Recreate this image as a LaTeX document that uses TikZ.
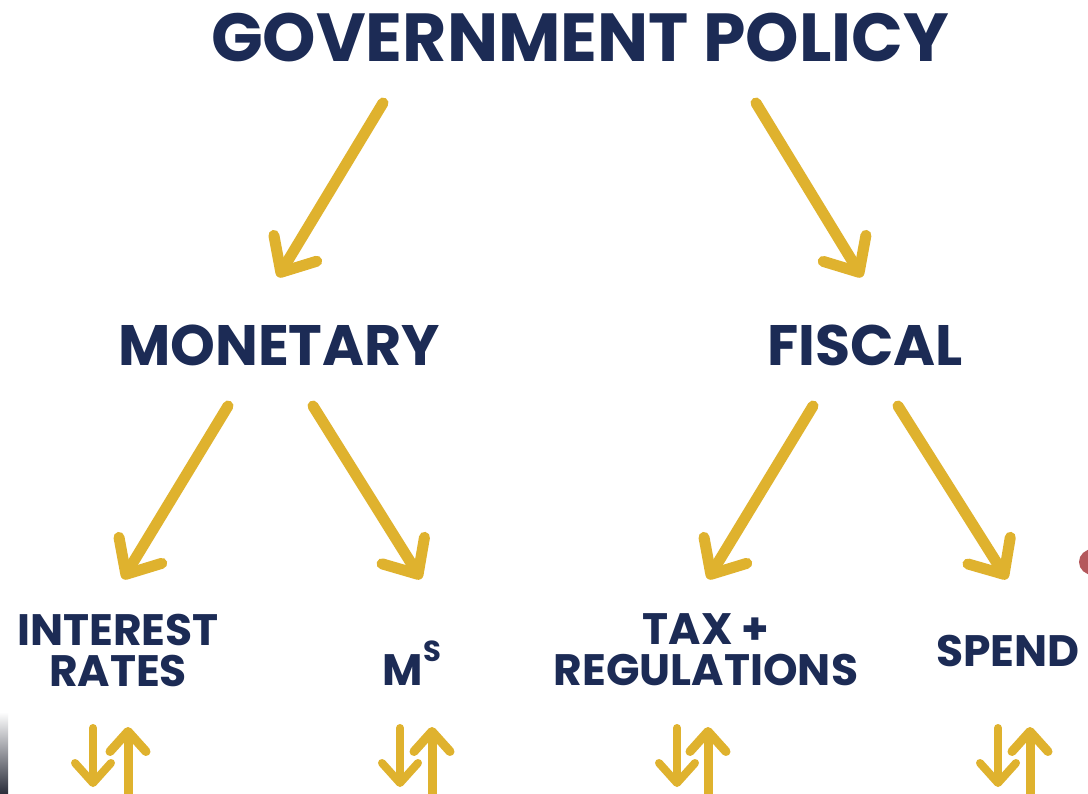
\documentclass[tikz,border=0pt]{standalone}
\usepackage{fontspec}
\setmainfont{Poppins}
\usetikzlibrary{arrows.meta}
\definecolor{navy}{HTML}{1C2B55}
\definecolor{gold}{HTML}{DFB22E}
\definecolor{edgedark}{HTML}{2A2D3A}
\definecolor{edgered}{HTML}{B4585C}
\begin{document}
\begin{tikzpicture}[x=1pt,y=-1pt,
  title/.style={font=\fontsize{68}{68}\selectfont\bfseries, text=navy, inner sep=0pt},
  branch/.style={font=\fontsize{57}{57}\selectfont\bfseries, text=navy, inner sep=0pt},
  leaf/.style={font=\fontsize{44}{41}\selectfont\bfseries, text=navy, inner sep=0pt, align=center},
  link/.style={draw=gold, line width=11pt, line cap=round, line join=round,
    -{Straight Barb[length=28pt,width=50pt,round]}},
  updown/.style={draw=gold, line width=9pt, line cap=round, line join=round,
    -{Straight Barb[length=20pt,width=36pt,round]}},
]
\useasboundingbox (0,0) rectangle (1088,794);
\fill[white] (0,0) rectangle (1088,794);

% edges of the surrounding scene
\shade[top color=white, bottom color=edgedark] (0,712) rectangle (8,794);
\fill[edgered] (1093,562) ellipse [x radius=14pt, y radius=13pt];

% labels
\node[title]  (gov)   at (580,38)  {GOVERNMENT POLICY};
\node[branch] (mon)   at (279,345) {MONETARY};
\node[branch] (fis)   at (865,345) {FISCAL};
\node[leaf]   (ir)    at (118,650) {INTEREST\\RATES};
\node[leaf, anchor=base] (ms) at (412,685)
  {M\raisebox{24pt}{\fontsize{29}{29}\selectfont S}};
\node[leaf]   (tax)   at (706,650) {TAX +\\REGULATIONS};
\node[leaf]   (spend) at (1008,651) {SPEND};

% connector end points
\coordinate (g1) at (383,103); \coordinate (m0) at (278,277);
\coordinate (g2) at (756,103); \coordinate (f0) at (862,277);
\coordinate (m1) at (228,406); \coordinate (ir0) at (123,579);
\coordinate (m2) at (313,406); \coordinate (ms0) at (421,579);
\coordinate (f1) at (813,406); \coordinate (tax0) at (708,579);
\coordinate (f2) at (898,406); \coordinate (sp0) at (1007,579);

\draw[link] (g1) -- (m0);
\draw[link] (g2) -- (f0);
\draw[link] (m1) -- (ir0);
\draw[link] (m2) -- (ms0);
\draw[link] (f1) -- (tax0);
\draw[link] (f2) -- (sp0);

% up / down arrows under each label
\foreach \n/\xd/\xu in {ir/93/128, ms/400/432, tax/677/708, spend/998/1030}{
  \coordinate (\n d1) at (\xd,728); \coordinate (\n d2) at (\xd,787);
  \coordinate (\n u1) at (\xu,806); \coordinate (\n u2) at (\xu,727);
  \draw[updown, line width=8pt] (\n d1) -- (\n d2);
  \draw[updown] (\n u1) -- (\n u2);
}
\end{tikzpicture}
\end{document}
